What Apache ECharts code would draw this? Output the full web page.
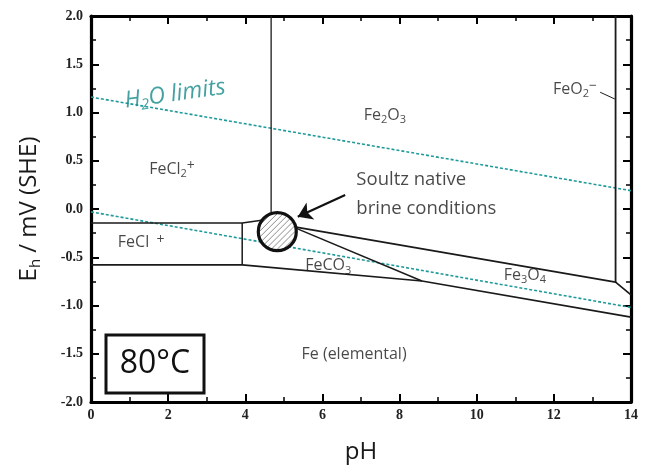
<!DOCTYPE html>
<html><head><meta charset="utf-8">
<script src="https://cdn.jsdelivr.net/npm/echarts@6/dist/echarts.min.js"></script>
<style>html,body{margin:0;padding:0;background:#fff}#c{width:647px;height:475px}</style>
</head><body><div id="c"></div>
<script>
// ---- data (pH, Eh in V) ----
const xTicks = [0, 2, 4, 6, 8, 10, 12, 14];
const yTicks = [-2.0, -1.5, -1.0, -0.5, 0.0, 0.5, 1.0, 1.5, 2.0];
const h2oUpper = [[0, 1.16], [14, 0.19]];
const h2oLower = [[0, -0.03], [14, -1.02]];
const fe2o3FeCl2 = [[4.67, 2.0], [4.67, -0.12]];
const feo2Boundary = [[13.6, 2.0], [13.6, -0.757]];
const feclTop = [[0, -0.145], [3.92, -0.145], [4.7, -0.10]];
const feclRight = [[3.92, -0.145], [3.92, -0.58]];
const feBottom = [[0, -0.58], [3.92, -0.58], [8.58, -0.746], [14, -1.12]];
const fe2o3Lower = [[5.2, -0.18], [13.6, -0.757], [14, -0.89]];
const feco3Fe3o4 = [[5.2, -0.18], [8.58, -0.746]];
const feo2Leader = [[13.2, 1.21], [13.58, 1.14]];
const soultzPoint = [[4.83, -0.235]];
const arrowLine = [[6.59, 0.145], [5.36, -0.08]];
const regionLabels = [
  { text: '{m|Fe}{s|2}{m|O}{s|3}', pos: [7.62, 0.97] },
  { text: '{m|FeCl}{s|2}{p|+}', pos: [2.1, 0.41] },
  { text: '{m|FeCl}{p|  +}', pos: [1.3, -0.35] },
  { text: '{m|FeCO}{s|3}', pos: [6.15, -0.59] },
  { text: '{m|Fe}{s|3}{m|O}{s|4}', pos: [11.25, -0.69] },
  { text: '{m|FeO}{s|2}{p|−}', pos: [12.55, 1.24] },
  { text: '{m|Fe (elemental)}', pos: [6.82, -1.51] }
];
const noteLabels = [
  { text: 'Soultz native\nbrine conditions', pos: [6.88, 0.15] }
];
const h2oLabel = [{ text: '{h|H}{hs|2}{h|O limits}', pos: [2.18, 1.19] }];

const font = '"Open Sans", "Noto Sans", sans-serif';
const ink = '#1a1a1a';
const teal = '#1f9a9a';
const tealText = '#178a8a';

const rich = {
  m: { fontSize: 16, fontFamily: font, color: ink, lineHeight: 20 },
  s: { fontSize: 11, fontFamily: font, color: ink, lineHeight: 6, verticalAlign: 'bottom' },
  p: { fontSize: 14, fontFamily: font, color: ink, lineHeight: 6, verticalAlign: 'top' },
  h: { fontSize: 23, fontFamily: font, fontStyle: 'italic', color: tealText, lineHeight: 28 },
  hs: { fontSize: 15, fontFamily: font, fontStyle: 'italic', color: tealText, lineHeight: 6, verticalAlign: 'bottom' }
};

function boundary(data, w) {
  return { type: 'line', data: data, symbol: 'none', silent: true, z: 3,
    lineStyle: { color: ink, width: w || 1.5 } };
}
function water(data) {
  return { type: 'line', data: data, symbol: 'none', silent: true, z: 2,
    lineStyle: { color: teal, width: 1.6, type: [3, 2] } };
}
function labelSeries(items, extra) {
  return { type: 'scatter', symbolSize: 0, silent: true, z: 6,
    data: items.map(d => ({ value: d.pos, name: d.text })),
    label: Object.assign({ show: true, position: 'inside', formatter: p => p.name, rich: rich,
      fontFamily: font, color: ink, fontSize: 16 }, extra || {}) };
}

const axisCommon = {
  axisLine: { onZero: false, lineStyle: { color: '#000', width: 3.2 } },
  axisTick: { inside: true, length: 8, lineStyle: { color: '#000', width: 2 } },
  minorTick: { show: true, splitNumber: 2, length: 5, lineStyle: { color: '#000', width: 1.5 } },
  splitLine: { show: false }
};
const tickLabel = { fontFamily: '"Liberation Serif", serif', fontWeight: 'bold', fontSize: 14, color: '#222' };

function hatchedCircle(params, api) {
  const c = api.coord([api.value(0), api.value(1)]);
  const r = 19;
  const kids = [{ type: 'circle', shape: { cx: c[0], cy: c[1], r: r }, style: { fill: '#fff' } }];
  const s = Math.SQRT1_2;
  for (let d = -r + 2; d < r; d += 4.2) {
    const h = Math.sqrt(r * r - d * d);
    const mx = c[0] + d * s, my = c[1] + d * s;
    kids.push({ type: 'line', shape: { x1: mx - h * s, y1: my + h * s, x2: mx + h * s, y2: my - h * s },
      style: { stroke: '#8c8c8c', lineWidth: 1 } });
  }
  kids.push({ type: 'circle', shape: { cx: c[0], cy: c[1], r: r }, style: { fill: 'none', stroke: '#111', lineWidth: 3.2 } });
  return { type: 'group', children: kids };
}

const chart = echarts.init(document.getElementById('c'));
chart.setOption({
  animation: false,
  backgroundColor: '#fff',
  grid: { left: 91, right: 16, top: 16, bottom: 73 },
  xAxis: [
    Object.assign({}, axisCommon, { type: 'value', min: xTicks[0], max: xTicks[xTicks.length - 1], interval: 2, position: 'bottom',
      axisLabel: Object.assign({ margin: 6, formatter: v => String(v) }, tickLabel),
      name: 'pH', nameLocation: 'middle', nameGap: 38,
      nameTextStyle: { fontFamily: font, fontSize: 24, color: ink } }),
    Object.assign({}, axisCommon, { type: 'value', min: xTicks[0], max: xTicks[xTicks.length - 1], interval: 2, position: 'top',
      axisLabel: { show: false } })
  ],
  yAxis: [
    Object.assign({}, axisCommon, { type: 'value', min: yTicks[0], max: yTicks[yTicks.length - 1], interval: 0.5, position: 'left',
      axisLabel: Object.assign({ margin: 8, formatter: v => v.toFixed(1) }, tickLabel),
      name: '{a|E}{b|h}{a| / mV (SHE)}', nameLocation: 'middle', nameGap: 48, nameRotate: 90,
      nameTextStyle: { rich: {
        a: { fontFamily: font, fontSize: 24, color: ink, lineHeight: 28 },
        b: { fontFamily: font, fontSize: 15, color: ink, lineHeight: 8, verticalAlign: 'bottom' } } } }),
    Object.assign({}, axisCommon, { type: 'value', min: yTicks[0], max: yTicks[yTicks.length - 1], interval: 0.5, position: 'right',
      axisLabel: { show: false } })
  ],
  series: [
    water(h2oUpper),
    water(h2oLower),
    boundary(fe2o3FeCl2, 1.3),
    boundary(feo2Boundary, 1.8),
    boundary(feclTop),
    boundary(feclRight),
    boundary(feBottom, 1.7),
    boundary(fe2o3Lower, 1.7),
    boundary(feco3Fe3o4, 1.5),
    boundary(feo2Leader, 1),
    { type: 'lines', coordinateSystem: 'cartesian2d', silent: true, z: 7,
      symbol: ['none', 'arrow'], symbolSize: [0, 14],
      lineStyle: { color: '#111', width: 2.2, opacity: 1 },
      data: [{ coords: arrowLine }] },
    { type: 'custom', data: soultzPoint, silent: true, z: 8, renderItem: hatchedCircle, clip: false },
    labelSeries(regionLabels),
    labelSeries(noteLabels, { align: 'left', fontSize: 18.5, lineHeight: 29, color: '#1a1a1a' }),
    labelSeries(h2oLabel, { rotate: 8 })
  ],
  graphic: [
    { type: 'rect', shape: { x: 106, y: 335, width: 98, height: 58 }, z: 10,
      style: { fill: '#fff', stroke: '#111', lineWidth: 3 } },
    { type: 'text', x: 155, y: 364, z: 11,
      style: { text: '80°C', fontFamily: font, fontSize: 32, fill: '#111', align: 'center', verticalAlign: 'middle' } }
  ]
});
</script></body></html>
